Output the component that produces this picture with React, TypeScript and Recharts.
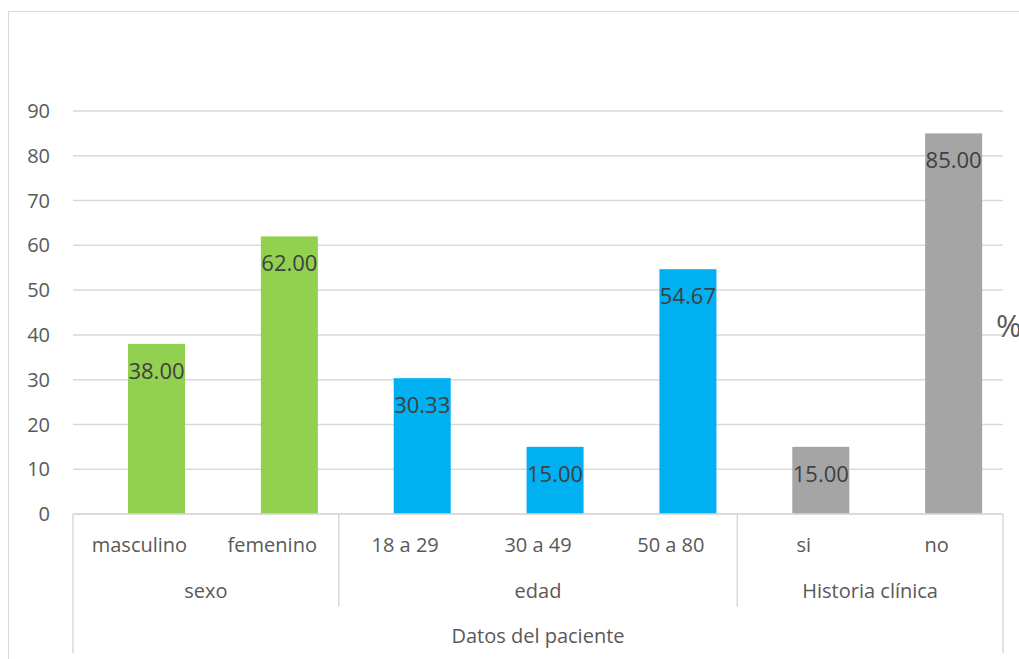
import { BarChart, Bar, XAxis, YAxis, CartesianGrid, LabelList } from 'recharts'

const categories = ['masculino', 'femenino', '18 a 29', '30 a 49', '50 a 80', 'si', 'no']
const groups = ['sexo', 'sexo', 'edad', 'edad', 'edad', 'Historia clínica', 'Historia clínica']
const values = [38, 62, 30.33, 15, 54.67, 15, 85]
const colors = ['#92D050', '#92D050', '#00B0F0', '#00B0F0', '#00B0F0', '#A5A5A5', '#A5A5A5']
const yTicks = [0, 10, 20, 30, 40, 50, 60, 70, 80, 90]
const outerLabel = 'Datos del paciente'

const data = categories.map((name, i) => ({
  name,
  group: groups[i],
  value: values[i],
  color: colors[i],
}))

const W = 1019
const H = 659
const LEFT = 73
const RIGHT = 16
const BAND = (W - LEFT - RIGHT) / categories.length
const BAR_SHIFT = 17
const FONT = '"Open Sans", "DejaVu Sans", sans-serif'
const TEXT = '#595959'
const LINE = '#d9d9d9'

function CategoryTick(props: any) {
  const { x, y, payload } = props
  const i = payload.index
  const n = categories.length
  const half = BAND / 2
  const g = groups[i]
  const isStart = i === 0 || groups[i - 1] !== g
  const isEnd = i === n - 1 || groups[i + 1] !== g
  const count = groups.filter((v) => v === g).length
  return (
    <g>
      <text x={x} y={y + 38} textAnchor="middle" fill={TEXT} fontSize={20} fontFamily={FONT}>
        {payload.value}
      </text>
      {i === 0 && (
        <>
          <line x1={x - half} x2={x - half} y1={y} y2={y + 139} stroke={LINE} strokeWidth={1.5} />
          <text
            x={x - half + (n * BAND) / 2}
            y={y + 129}
            textAnchor="middle"
            fill={TEXT}
            fontSize={20}
            fontFamily={FONT}
          >
            {outerLabel}
          </text>
        </>
      )}
      {isStart && (
        <text
          x={x - half + (count * BAND) / 2}
          y={y + 84}
          textAnchor="middle"
          fill={TEXT}
          fontSize={20}
          fontFamily={FONT}
        >
          {g}
        </text>
      )}
      {isEnd && (
        <line
          x1={x + half}
          x2={x + half}
          y1={y}
          y2={i === n - 1 ? y + 139 : y + 93}
          stroke={LINE}
          strokeWidth={1.5}
        />
      )}
    </g>
  )
}

function ShiftedBar(props: any) {
  const { x, y, width, height, payload } = props
  return <rect x={x + BAR_SHIFT} y={y} width={width} height={height} fill={payload.color} />
}

function ValueLabel(props: any) {
  const { x, y, width, value } = props
  return (
    <text
      x={x + width / 2 + BAR_SHIFT}
      y={y + 35}
      textAnchor="middle"
      fill="#404040"
      fontSize={22}
      fontFamily={FONT}
    >
      {Number(value).toFixed(2)}
    </text>
  )
}

export default function App() {
  return (
    <div
      style={{
        position: 'absolute',
        left: 0,
        top: 0,
        width: W,
        height: H,
        overflow: 'hidden',
        background: '#fff',
      }}
    >
      <div
        style={{
          position: 'absolute',
          left: 8,
          top: 11,
          width: 1200,
          height: 800,
          border: `1px solid ${LINE}`,
        }}
      />
      <div style={{ position: 'absolute', left: 0, top: 0 }}>
        <BarChart
          width={W}
          height={H}
          data={data}
          margin={{ top: 111, right: RIGHT, left: 0, bottom: 0 }}
          barCategoryGap={0}
        >
          <CartesianGrid vertical={false} stroke={LINE} strokeWidth={1.5} />
          <XAxis
            dataKey="name"
            height={145}
            interval={0}
            tickLine={false}
            tickSize={0}
            tickMargin={0}
            axisLine={{ stroke: LINE, strokeWidth: 1.5 }}
            tick={<CategoryTick />}
          />
          <YAxis
            width={LEFT}
            domain={[0, 90]}
            ticks={yTicks}
            interval={0}
            axisLine={false}
            tickLine={false}
            tickSize={0}
            tickMargin={23}
            tick={{ fill: TEXT, fontSize: 20, fontFamily: FONT }}
          />
          <Bar dataKey="value" barSize={57} isAnimationActive={false} shape={<ShiftedBar />}>
            <LabelList dataKey="value" content={<ValueLabel />} />
          </Bar>
        </BarChart>
      </div>
      <div
        style={{
          position: 'absolute',
          left: 996,
          top: 305,
          fontSize: 31,
          lineHeight: '40px',
          color: TEXT,
          fontFamily: FONT,
        }}
      >
        %
      </div>
    </div>
  )
}
